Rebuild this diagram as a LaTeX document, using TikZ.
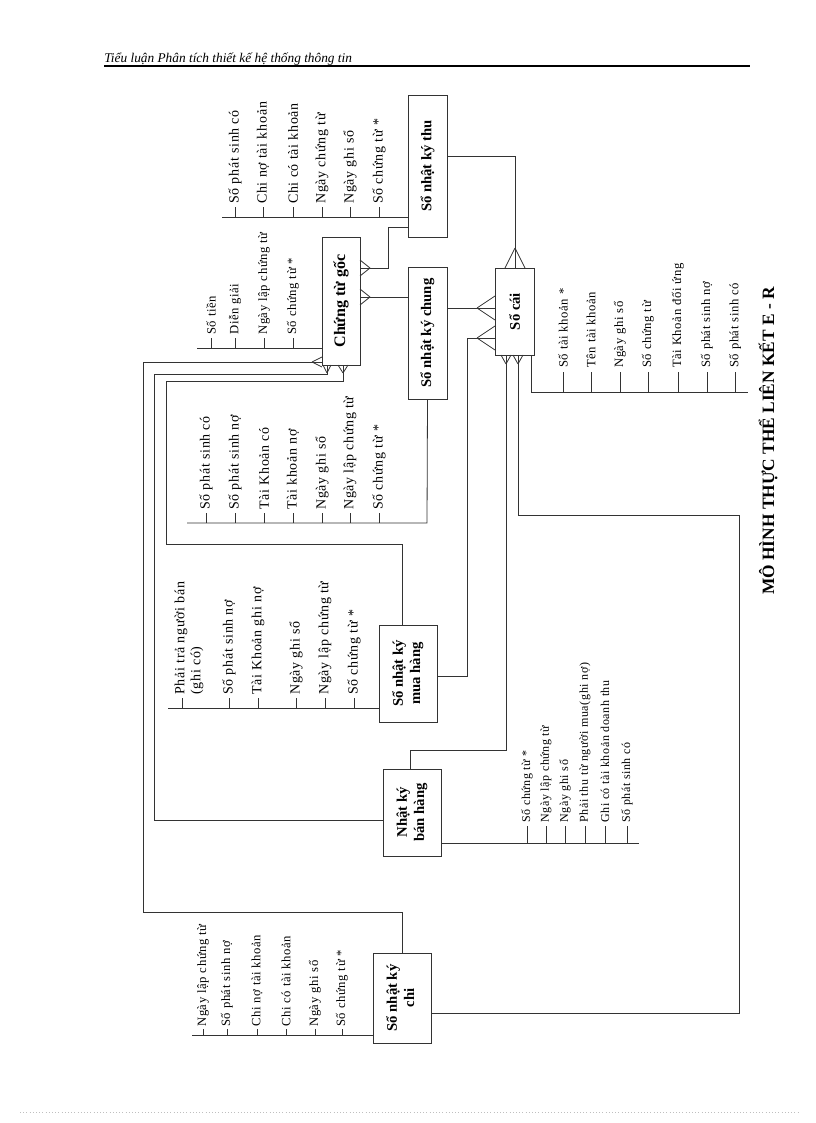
\documentclass[tikz,border=0pt]{standalone}
\usepackage{fontspec}
\setmainfont{Liberation Serif}
\newfontfamily\spaced[LetterSpace=5]{Liberation Serif}
\begin{document}
\begin{tikzpicture}[x=0.75pt,y=-0.75pt,
  ln/.style={draw=black!80,line width=0.6pt},
  ent/.style={draw=black!80,line width=0.7pt,inner sep=0pt,font=\bfseries\fontsize{11}{13}\selectfont},
  attr/.style={rotate=90,anchor=west,inner sep=0pt,font=\spaced\fontsize{10.5}{12}\selectfont},
  sattr/.style={attr,font=\spaced\fontsize{9}{10}\selectfont},
  mattr/.style={attr,font=\spaced\fontsize{9.5}{11}\selectfont},
  nattr/.style={attr,font=\spaced\fontsize{9.5}{11}\selectfont}]
\useasboundingbox (0,0) rectangle (816,1123);
% header
\node[anchor=base west,inner sep=0pt,font=\itshape\fontsize{10}{12}\selectfont] (hdr) at (104,63) {Tiểu luận Phân tích thiết kế hệ thống thông tin};
\draw[line width=1pt] (104,66) -- (750,66);
\draw[black!25,dotted] (20,1112) -- (800,1112);
% entities
\node[ent,minimum width=29.25pt,minimum height=106.5pt] (SNT) at (427.5,166) {\rotatebox{90}{Sổ nhật ký thu}};
\node[ent,minimum width=28.5pt,minimum height=96pt] (CTG) at (341,301) {\rotatebox{90}{\fontsize{12}{14}\selectfont Chứng từ gốc}};
\node[ent,minimum width=29.25pt,minimum height=99pt] (SNC) at (427.5,333) {\rotatebox{90}{Sổ nhật ký chung}};
\node[ent,minimum width=29.25pt,minimum height=65.25pt] (SC) at (514.5,311.5) {\rotatebox{90}{Sổ cái}};
\node[ent,minimum width=43.5pt,minimum height=72.75pt] (SMH) at (408,673.5) {\rotatebox{90}{\begin{tabular}{@{}c@{}}Sổ nhật ký\\mua hàng\end{tabular}}};
\node[ent,minimum width=43.5pt,minimum height=65.25pt] (NBH) at (412,812.5) {\rotatebox{90}{\begin{tabular}{@{}c@{}}Nhật ký\\bán hàng\end{tabular}}};
\node[ent,minimum width=43.5pt,minimum height=67.5pt] (SCHI) at (402,998) {\rotatebox{90}{\begin{tabular}{@{}c@{}}Sổ nhật ký\\chi\end{tabular}}};
% title
\node[rotate=90,anchor=west,inner sep=0pt,font=\bfseries\fontsize{13}{15}\selectfont] (title) at (768,595) {MÔ HÌNH THỰC THỂ LIÊN KẾT E - R};
% attributes: Sổ nhật ký thu
\draw[ln] (222,217) -- (SNT.west |- 0,217);
\foreach \x/\t [count=\i] in {235/Số phát sinh có,263/Chi nợ tài khoản,293/Chi có tài khoản,322/Ngày chứng từ,350/Ngày ghi sổ,379/Số chứng từ *}
  {\draw[ln] (\x,217) -- (\x,207); \node[attr] (snt\i) at (\x,204) {\t};}
% Chứng từ gốc
\draw[ln] (197,348) -- (CTG.west |- 0,348);
\foreach \x/\t [count=\i] in {211/Số tiền,235/Diễn giải,264/Ngày lập chứng từ,293/Số chứng từ *}
  {\draw[ln] (\x,348) -- (\x,338); \node[nattr] (ctg\i) at (\x,335) {\t};}
% Sổ nhật ký chung
\draw[ln] (187,523) -- (427,523) -- (SNC.south);
\foreach \x/\t [count=\i] in {206/Số phát sinh có,235/Số phát sinh nợ,264/Tài Khoản có,293/Tài khoản nợ,322/Ngày ghi sổ,350/Ngày lập chứng từ,379/Số chứng từ *}
  {\draw[ln] (\x,523) -- (\x,513); \node[attr] (snc\i) at (\x,510) {\t};}
% Sổ nhật ký mua hàng
\draw[ln] (168,708) -- (SMH.west |- 0,708);
\draw[ln] (182,708) -- (182,698);
\node[attr,align=left] (smh1) at (189,695) {Phải trả người bán\\(ghi có)};
\foreach \x/\t [count=\i from 2] in {229/Số phát sinh nợ,258/Tài Khoản ghi nợ,296/Ngày ghi sổ,325/Ngày lập chứng từ,354/Số chứng từ *}
  {\draw[ln] (\x,708) -- (\x,698); \node[attr] (smh\i) at (\x,695) {\t};}
% Nhật ký bán hàng
\draw[ln] (NBH.east |- 0,843) -- (639,843);
\foreach \x/\t [count=\i] in {527/Số chứng từ *,546/Ngày lập chứng từ,565/Ngày ghi sổ,585/Phải thu từ người mua(ghi nợ),605/Ghi có tài khoản doanh thu,627/Số phát sinh có}
  {\draw[ln] (\x,843) -- (\x,826); \node[sattr] (nbh\i) at (\x,823) {\t};}
% Sổ nhật ký chi
\draw[ln] (192,1035) -- (SCHI.west |- 0,1035);
\foreach \x/\t [count=\i] in {203/Ngày lập chứng từ,227/Số phát sinh nợ,257/Chi nợ tài khoản,286/Chi có tài khoản,315/Ngày ghi sổ,342/Số chứng từ *}
  {\draw[ln] (\x,1035) -- (\x,1029); \node[nattr] (schi\i) at (\x,1027) {\t};}
% Sổ cái
\draw[ln] (SC.south -| 531,0) -- (531,392) -- (748,392);
\foreach \x/\t [count=\i] in {563/Số tài khoản *,591/Tên tài khoản,620/Ngày ghi sổ,648/Số chứng từ,678/Tài Khoản đối ứng,707/Số phát sinh nợ,735/Số phát sinh có}
  {\draw[ln] (\x,392) -- (\x,372); \node[mattr] (sc\i) at (\x,368) {\t};}
% connectors
\draw[ln] (SNT.east |- 0,156) -- (515,156) -- (515,268);
\draw[ln] (515,248) -- (505,268) (515,248) -- (525,268);
\draw[ln] (SNT.west |- 0,227) -- (388,227) -- (388,268) -- (360,268);
\draw[ln] (370,268) -- (360,260) (370,268) -- (360,276);
\draw[ln] (SNC.west |- 0,297) -- (360,297);
\draw[ln] (370,297) -- (360,289) (370,297) -- (360,305);
\draw[ln] (SNC.east |- 0,308) -- (495,308);
\draw[ln] (477,308) -- (495,296) (477,308) -- (495,320);
\draw[ln] (SMH.east |- 0,676) -- (467,676) -- (467,338) -- (495,338);
\draw[ln] (477,338) -- (495,326) (477,338) -- (495,350);
\draw[ln] (NBH.north -| 410,0) -- (410,750) -- (506,750) -- (506,355);
\draw[ln] (506,364) -- (501,355) (506,364) -- (511,355);
\draw[ln] (SCHI.east |- 0,1013) -- (739,1013) -- (739,515) -- (518,515) -- (518,355);
\draw[ln] (518,364) -- (513,355) (518,364) -- (523,355);
\draw[ln] (CTG.west |- 0,362) -- (143,362) -- (143,912) -- (402,912) -- (SCHI.north);
\draw[ln] (312,362) -- (322,357) (312,362) -- (322,367);
\draw[ln] (CTG.south -| 327,0) -- (327,374) -- (154,374) -- (154,820) -- (NBH.west |- 0,820);
\draw[ln] (327,373) -- (323,365) (327,373) -- (331,365);
\draw[ln] (CTG.south -| 343,0) -- (343,381) -- (166,381) -- (166,544) -- (402,544) -- (SMH.north -| 402,0);
\draw[ln] (343,373) -- (338,365) (343,373) -- (348,365);
\end{tikzpicture}
\end{document}
